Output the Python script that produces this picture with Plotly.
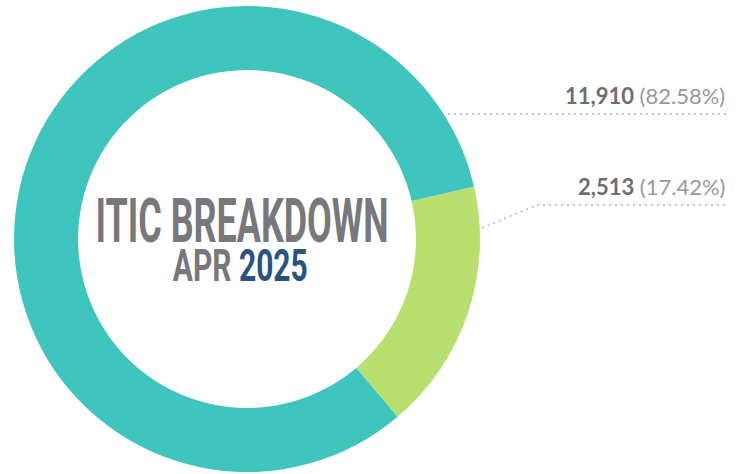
import plotly.graph_objects as go

# ---- data ----
categories = ["Group B", "Group A"]
values = [2513, 11910]
colors = ["#BADF71", "#40C4BE"]
title_line1 = "ITIC BREAKDOWN"
title_month = "APR"
title_year = "2025"

total = sum(values)
pcts = [v / total * 100 for v in values]

W, H = 743, 474
cx, cy, r = 247, 239, 233  # pixel geometry of donut

fig = go.Figure(go.Pie(
    labels=categories,
    values=values,
    marker=dict(colors=colors, line=dict(width=0)),
    hole=0.725,
    sort=False,
    direction="clockwise",
    rotation=77,
    textinfo="none",
    hoverinfo="label+value+percent",
    showlegend=False,
    domain=dict(x=[(cx - r) / W, (cx + r) / W],
                y=[(H - cy - r) / H, (H - cy + r) / H]),
))

cond = "Roboto, Open Sans, sans-serif"
ann = [
    dict(x=241.5 / W, y=(H - 220) / H, xref="paper", yref="paper",
         text=f"<b>{title_line1}</b>", showarrow=False, xanchor="center", yanchor="middle",
         font=dict(family=cond, size=62, color="#77787B")),
    dict(x=240.5 / W, y=(H - 265) / H, xref="paper", yref="paper",
         text=f"<b>{title_month} <span style='color:#2A527F'>{title_year}</span></b>",
         showarrow=False, xanchor="center", yanchor="middle",
         font=dict(family=cond, size=45, color="#77787B")),
]

label_y = [187, 96]
for v, p, ly in zip(values, pcts, label_y):
    ann.append(dict(
        x=727 / W, y=(H - ly) / H, xref="paper", yref="paper",
        text=f"<b>{v:,}</b> <span style='color:#97989B'>({p:.2f}%)</span>",
        showarrow=False, xanchor="right", yanchor="middle",
        font=dict(family="Lato, Open Sans, sans-serif", size=22, color="#6D6E71"),
    ))

dot = dict(color="#C4C4C4", width=2, dash="2px,4px")
shapes = [
    dict(type="line", xref="paper", yref="paper",
         x0=448 / W, y0=(H - 114) / H, x1=727 / W, y1=(H - 114) / H, line=dot),
    dict(type="line", xref="paper", yref="paper",
         x0=482 / W, y0=(H - 228) / H, x1=537 / W, y1=(H - 205) / H, line=dot),
    dict(type="line", xref="paper", yref="paper",
         x0=537 / W, y0=(H - 205) / H, x1=727 / W, y1=(H - 205) / H, line=dot),
]

fig.update_layout(
    width=W, height=H,
    margin=dict(l=0, r=0, t=0, b=0),
    paper_bgcolor="white", plot_bgcolor="white",
    annotations=ann, shapes=shapes,
)

# remove page margin and condense the centre title horizontally
post = """
document.body.style.margin = '0';
var targets = [293, 135];
var texts = document.querySelectorAll('.annotation-text');
for (var i = 0; i < 2 && i < texts.length; i++) {
  var el = texts[i];
  var b = el.getBBox();
  var c = b.x + b.width / 2;
  var s = targets[i] / b.width;
  el.setAttribute('transform', 'translate(' + c + ',0) scale(' + s + ',1) translate(' + (-c) + ',0)');
}
"""

fig.write_html("out.html", post_script=post, config={"displayModeBar": False})
